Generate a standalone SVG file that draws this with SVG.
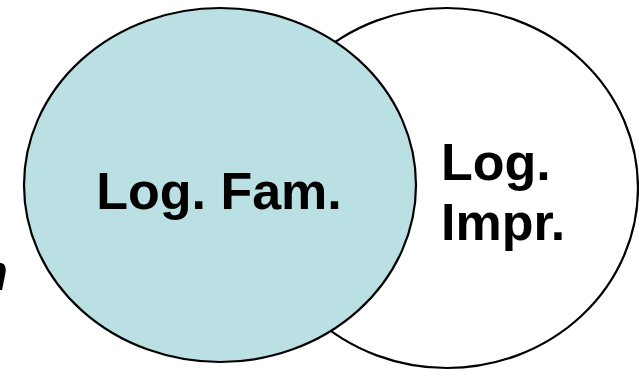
<svg xmlns="http://www.w3.org/2000/svg" width="639" height="370" viewBox="0 0 639 370">
  <style>
    .set { stroke: #000; stroke-width: 2.2; }
    .label { font-family: "Liberation Sans", Arial, sans-serif; font-weight: bold; font-size: 52px; fill: #000; }
  </style>
  <rect width="639" height="370" fill="#fff"/>
  <!-- partial glyph at the left edge -->
  <text class="label" x="8" y="290" font-size="56" font-style="italic" text-anchor="end">n</text>
  <g id="impr">
    <ellipse class="set" cx="447" cy="188" rx="191" ry="180" fill="#fff"/>
    <text class="label" x="441" y="180">Log.</text>
    <text class="label" x="441" y="240">Impr.</text>
  </g>
  <g id="fam">
    <ellipse class="set" cx="220" cy="185" rx="196" ry="177" fill="#bae0e3"/>
    <text class="label" x="219" y="209" text-anchor="middle">Log. Fam.</text>
  </g>
  <g id="connectors"/>
</svg>
